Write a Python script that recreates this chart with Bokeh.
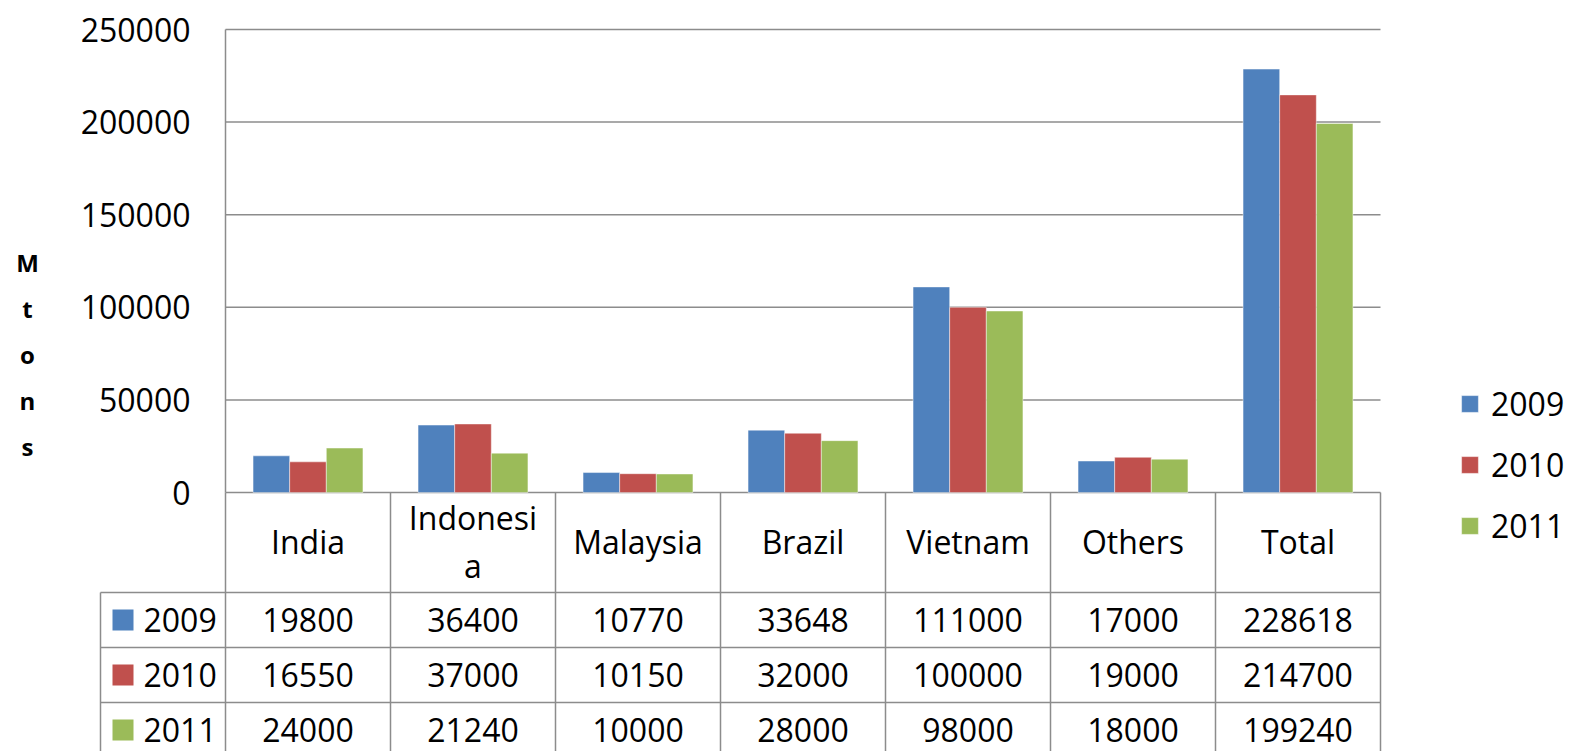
from bokeh.plotting import figure
from bokeh.models import Range1d, LinearAxis, FixedTicker, Legend, LegendItem, NumeralTickFormatter
from bokeh.core.properties import value
from bokeh.embed import file_html
from bokeh.resources import INLINE

# ---------------- data ----------------
categories = ["India", "Indonesia", "Malaysia", "Brazil", "Vietnam", "Others", "Total"]
header_labels = ["India", "Indonesi\na", "Malaysia", "Brazil", "Vietnam", "Others", "Total"]
years = ["2009", "2010", "2011"]
v2009 = [19800, 36400, 10770, 33648, 111000, 17000, 228618]
v2010 = [16550, 37000, 10150, 32000, 100000, 19000, 214700]
v2011 = [24000, 21240, 10000, 28000, 98000, 18000, 199240]
y_ticks = [0, 50000, 100000, 150000, 200000, 250000]
y_title = "M\nt\no\nn\ns"

series = [v2009, v2010, v2011]
colors = ["#4F81BD", "#C0504D", "#9BBB59"]

FONT = "Open Sans"
FS = "32px"
GRID = "#8C8C8C"

W, H = 1569, 751
n = len(categories)
PX_PER_CAT = 165.0
X0 = 225.0          # pixel of category axis origin
Y0 = 492.0          # pixel of value zero
UNITS_PER_PX = 250000 / 463.0

p = figure(width=W, height=H, output_backend="svg", toolbar_location=None,
           x_range=Range1d(-X0 / PX_PER_CAT, (W - X0) / PX_PER_CAT),
           y_range=Range1d(-(H - Y0) * UNITS_PER_PX, Y0 * UNITS_PER_PX),
           x_axis_location=None, y_axis_location=None, min_border=0,
           background_fill_color="white", border_fill_color="white")
p.outline_line_color = None
p.grid.visible = False
p.extra_x_ranges = {"px": Range1d(0, W)}
p.extra_y_ranges = {"py": Range1d(H, 0)}

# y axis placed at category-axis origin
yax = LinearAxis(fixed_location=0, ticker=FixedTicker(ticks=y_ticks),
                 formatter=NumeralTickFormatter(format="0"), bounds=(0, 250000))
yax.axis_line_color = GRID
yax.axis_line_width = 1.5
yax.major_tick_in = 0
yax.major_tick_out = 0
yax.minor_tick_in = 0
yax.minor_tick_out = 0
yax.major_label_standoff = 35
yax.major_label_text_font = FONT
yax.major_label_text_font_size = FS
yax.major_label_text_color = "black"
p.add_layout(yax, "left")

# gridlines
p.segment(x0=[0] * len(y_ticks), x1=[n] * len(y_ticks), y0=y_ticks, y1=y_ticks,
          line_color=GRID, line_width=1.5)

# bars
bw = 0.222
offsets = [-bw, 0.0, bw]
renderers = []
for vals, col, off in zip(series, colors, offsets):
    xs = [i + 0.5 + off for i in range(n)]
    r = p.vbar(x=xs, top=vals, bottom=0, width=bw, fill_color=col,
               line_color="white", line_alpha=0.45, line_width=1)
    renderers.append(r)

# ---------------- data table ----------------
hdr_y = 541
row_y = [619.5, 674.5, 729.5]
row_lines = [592, 647, 702]
tbl_left = 100

# vertical cell borders at category boundaries
p.segment(x0=list(range(n + 1)), x1=list(range(n + 1)), y0=[Y0] * (n + 1), y1=[H] * (n + 1),
          y_range_name="py", line_color=GRID, line_width=1.5)
# left border of legend column
p.segment(x0=[tbl_left], x1=[tbl_left], y0=[592], y1=[H],
          x_range_name="px", y_range_name="py", line_color=GRID, line_width=1.5)
# horizontal row borders
p.segment(x0=[tbl_left] * 3, x1=[X0 + PX_PER_CAT * n] * 3, y0=row_lines, y1=row_lines,
          x_range_name="px", y_range_name="py", line_color=GRID, line_width=1.5)

# header labels
p.text(x=[i + 0.5 for i in range(n)], y=[hdr_y] * n, text=header_labels, y_range_name="py",
       text_font=value(FONT), text_font_size=FS, text_align="center", text_baseline="middle",
       text_line_height=1.12, text_color="black")

# values
for vals, ry in zip(series, row_y):
    p.text(x=[i + 0.5 for i in range(n)], y=[ry] * n, text=[str(v) for v in vals], y_range_name="py",
           text_font=value(FONT), text_font_size=FS, text_align="center", text_baseline="middle",
           text_color="black")

# legend keys in the table
p.rect(x=[122.5] * 3, y=row_y, width=21, height=21, fill_color=colors, line_color=None,
       x_range_name="px", y_range_name="py")
p.text(x=[143] * 3, y=row_y, text=years, x_range_name="px", y_range_name="py",
       text_font=value(FONT), text_font_size=FS, text_align="left", text_baseline="middle",
       text_color="black")

# y axis title (stacked letters)
p.text(x=[27], y=[354], text=[y_title], x_range_name="px", y_range_name="py",
       text_font=value(FONT), text_font_size="24px", text_font_style="bold",
       text_align="center", text_baseline="middle", text_line_height=1.39, text_color="black")

# legend
legend = Legend(items=[LegendItem(label=y, renderers=[r]) for y, r in zip(years, renderers)],
                location=(1459, 196 + (H - 743)))
legend.glyph_width = 21
legend.glyph_height = 21
legend.label_height = 21
legend.label_standoff = 11
legend.spacing = 18
legend.padding = 0
legend.margin = 0
legend.border_line_color = None
legend.background_fill_alpha = 0
legend.label_text_font = FONT
legend.label_text_font_size = FS
legend.label_text_color = "black"
p.add_layout(legend)

open("out.html", "w").write(file_html(p, INLINE))
